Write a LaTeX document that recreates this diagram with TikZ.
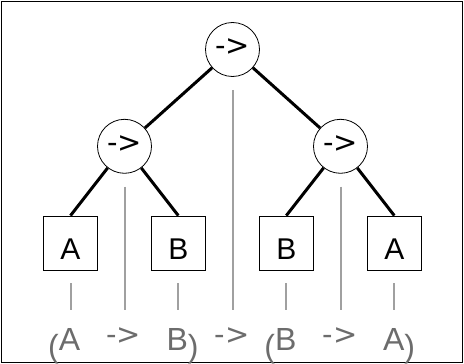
\documentclass[tikz,border=0pt]{standalone}
\usepackage{fontspec}
\setmainfont{Liberation Sans}
\newfontfamily\arrowfont{DejaVu Sans}
\definecolor{linegray}{RGB}{160,160,160}
\definecolor{textgray}{RGB}{108,108,108}
\newcommand{\lowparen}[1]{\raisebox{-7pt}{#1}}
\begin{document}
\begin{tikzpicture}[x=1pt,y=-1pt,
  opnode/.style={draw,circle,minimum size=54pt,inner sep=0pt,line width=0.8pt,
    font=\arrowfont\fontsize{29}{29}\selectfont,text height=18pt,text depth=6pt},
  leafbox/.style={draw,rectangle,minimum size=54pt,inner sep=0pt,line width=0.8pt,
    font=\fontsize{30}{30}\selectfont,text height=36pt,text depth=4pt},
  treeedge/.style={line width=3pt},
  guide/.style={draw=linegray,line width=2pt},
  seqtext/.style={anchor=base,inner sep=0pt,text=textgray,font=\fontsize{32}{32}\selectfont},
  seqarrow/.style={anchor=base,inner sep=0pt,text=textgray,font=\arrowfont\fontsize{29}{29}\selectfont}]
\useasboundingbox (0,0) rectangle (464,364);
\draw[line width=1pt] (1.5,1.5) rectangle (462.5,362.5);
% tree nodes
\node[opnode] (root) at (232.5,49.5) {->};
\node[opnode] (l) at (124.5,146.3) {->};
\node[opnode] (r) at (340.5,146.3) {->};
\node[leafbox] (a1) at (70.5,243) {A};
\node[leafbox] (b1) at (178.3,243) {B};
\node[leafbox] (b2) at (286.3,243) {B};
\node[leafbox] (a2) at (394.3,243) {A};
% tree edges
\draw[treeedge] (root) -- (l);
\draw[treeedge] (root) -- (r);
\draw[treeedge] (l) -- (a1.north);
\draw[treeedge] (l) -- (b1.north);
\draw[treeedge] (r) -- (b2.north);
\draw[treeedge] (r) -- (a2.north);
% sequence text
\node[seqtext] (t1) at (69.5,350) {\llap{\lowparen{(}}A};
\node[seqarrow] (t2) at (123.5,344) {->};
\node[seqtext] (t3) at (177.3,350) {B\rlap{\lowparen{)}}};
\node[seqarrow] (t4) at (232,344) {->};
\node[seqtext] (t5) at (285.8,350) {\llap{\lowparen{(}}B};
\node[seqarrow] (t6) at (340,344) {->};
\node[seqtext] (t7) at (393.8,350) {A\rlap{\lowparen{)}}};
% guide end points
\coordinate (e1) at (70.5,310);
\coordinate (e2) at (124.5,310);
\coordinate (e3) at (178.3,310);
\coordinate (e4) at (232.5,310);
\coordinate (e5) at (286.3,310);
\coordinate (e6) at (340.5,310);
\coordinate (e7) at (394.3,310);
\draw[guide] ([yshift=-13pt]a1.south) -- (e1);
\draw[guide] ([yshift=-13pt]l.south) -- (e2);
\draw[guide] ([yshift=-13pt]b1.south) -- (e3);
\draw[guide] ([yshift=-13pt]root.south) -- (e4);
\draw[guide] ([yshift=-13pt]b2.south) -- (e5);
\draw[guide] ([yshift=-13pt]r.south) -- (e6);
\draw[guide] ([yshift=-13pt]a2.south) -- (e7);
\end{tikzpicture}
\end{document}
